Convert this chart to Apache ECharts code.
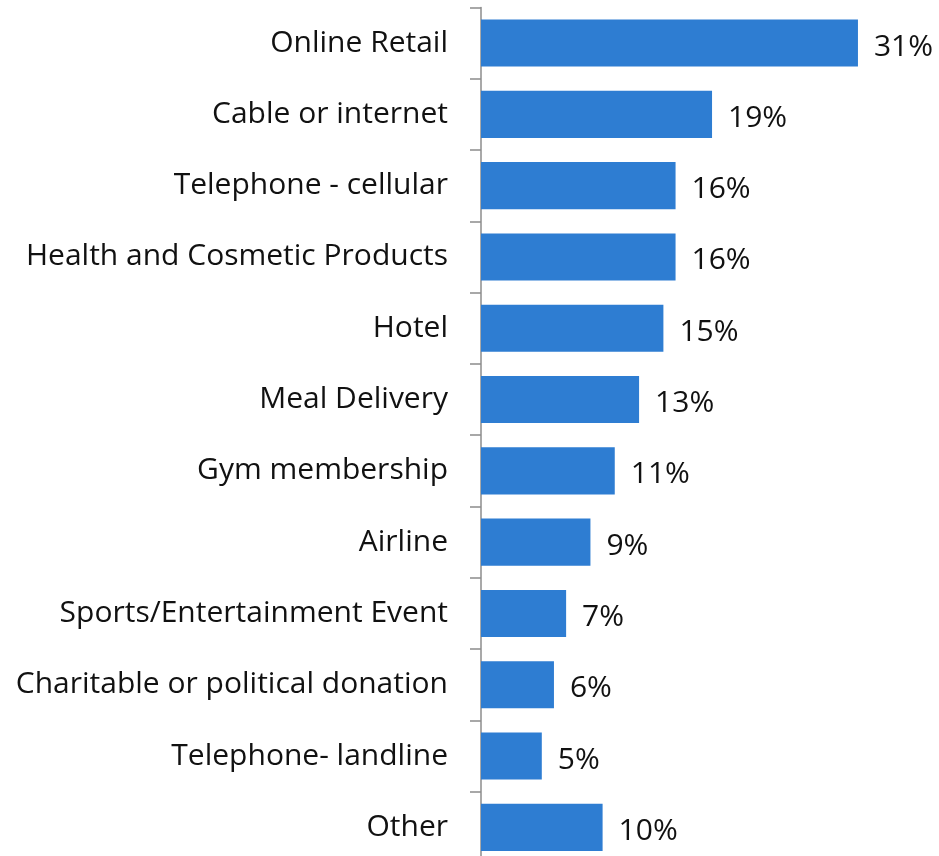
<!DOCTYPE html>
<html>
<head>
<meta charset="utf-8">
<script src="https://cdn.jsdelivr.net/npm/echarts@6/dist/echarts.min.js"></script>
<style>
  html, body { margin: 0; padding: 0; background: #fff; }
  #chart { width: 939px; height: 856px; }
</style>
</head>
<body>
<div id="chart"></div>
<script>
// Categories, top to bottom
const categories = [
  'Online Retail',
  'Cable or internet',
  'Telephone - cellular',
  'Health and Cosmetic Products',
  'Hotel',
  'Meal Delivery',
  'Gym membership',
  'Airline',
  'Sports/Entertainment Event',
  'Charitable or political donation',
  'Telephone- landline',
  'Other'
];
// Share of respondents, percent
const shares = [31, 19, 16, 16, 15, 13, 11, 9, 7, 6, 5, 10];

const FONT = '"Open Sans", "Noto Sans", sans-serif';
const chart = echarts.init(document.getElementById('chart'), null, { renderer: 'canvas' });

chart.setOption({
  animation: false,
  backgroundColor: '#ffffff',
  grid: { left: 481, top: 7.4, width: 425.6, height: 855.6, outerBoundsMode: 'none' },
  xAxis: {
    type: 'value',
    min: 0,
    max: 35,
    show: false
  },
  yAxis: {
    type: 'category',
    inverse: true,
    data: categories,
    axisLine: { show: true, lineStyle: { color: '#8c8c8c', width: 1.5 } },
    axisTick: { show: true, length: 11, lineStyle: { color: '#8c8c8c', width: 1.5 } },
    axisLabel: {
      color: '#111111',
      fontFamily: FONT,
      fontSize: 30,
      margin: 33,
      padding: [5, 0, 0, 0]
    }
  },
  series: [{
    type: 'bar',
    data: shares,
    barCategoryGap: '34%',
    itemStyle: { color: '#2e7dd2' },
    label: {
      show: true,
      position: 'right',
      distance: 16,
      offset: [0, 4],
      formatter: p => p.value + '%',
      color: '#111111',
      fontFamily: FONT,
      fontSize: 30
    }
  }]
});
</script>
</body>
</html>
